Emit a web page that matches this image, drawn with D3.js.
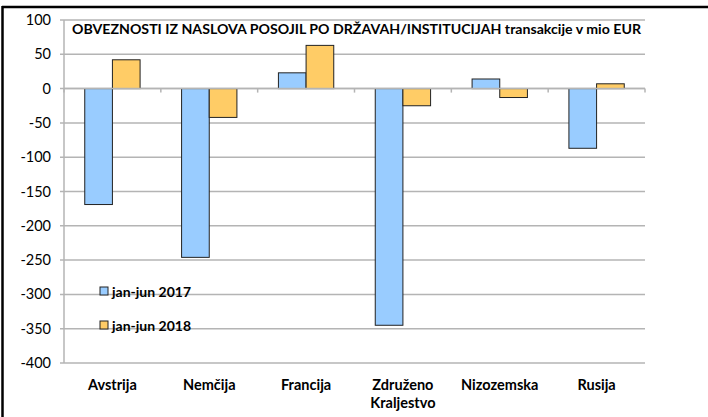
<!DOCTYPE html>
<html><head><meta charset="utf-8">
<script src="https://cdn.jsdelivr.net/npm/d3@7"></script>
<style>body{margin:0;background:#fff}svg{display:block}text{font-family:Lato,"Open Sans",sans-serif}</style>
</head><body><div id="chart"></div>
<script>
const categories = [["Avstrija"],["Nemčija"],["Francija"],["Združeno","Kraljestvo"],["Nizozemska"],["Rusija"]];
const seriesNames = ["jan-jun 2017","jan-jun 2018"];
const values2017 = [-169, -246, 23, -345, 14, -87];
const values2018 = [42, -42, 63, -25, -13, 7];
const yTicks = [100,50,0,-50,-100,-150,-200,-250,-300,-350,-400];
const title = "OBVEZNOSTI IZ NASLOVA POSOJIL PO DRŽAVAH/INSTITUCIJAH transakcije v mio EUR";
const colors = ["#99CCFF","#FFCC66"];

(function(){
const W=708,H=417;
const svg=d3.select("#chart").append("svg").attr("width",W).attr("height",H);
const mLeft=64,mRight=645,mTop=20,mBottom=363;
const y=d3.scaleLinear().domain([-400,100]).range([mBottom,mTop]);
const x=d3.scaleBand().domain(d3.range(categories.length)).range([mLeft,mRight]).paddingInner(0).paddingOuter(0);
const inner=d3.scaleBand().domain([0,1]).range([0,x.bandwidth()]).paddingInner(0).paddingOuter(0.75);

// border
svg.append("line").attr("x1",2).attr("x2",W).attr("y1",7).attr("y2",7).attr("stroke","#000").attr("stroke-width",2.5);
svg.append("line").attr("x1",2.5).attr("x2",2.5).attr("y1",6).attr("y2",H).attr("stroke","#000").attr("stroke-width",2.5);

// gridlines
svg.append("g").selectAll("line").data(yTicks).join("line")
 .attr("x1",mLeft-4).attr("x2",mRight).attr("y1",d=>y(d)).attr("y2",d=>y(d))
 .attr("stroke","#b4b4b4").attr("stroke-width",1.5);
// y axis line
svg.append("line").attr("x1",mLeft).attr("x2",mLeft).attr("y1",mTop).attr("y2",mBottom).attr("stroke","#b4b4b4").attr("stroke-width",1.5);
// y tick labels
svg.append("g").selectAll("text").data(yTicks).join("text")
 .attr("x",51).attr("y",d=>y(d)).attr("dy","0.35em").attr("text-anchor","end")
 .attr("font-size",14.5).attr("fill","#000").text(d=>d);

// title
svg.append("text").attr("x",72).attr("y",34).attr("font-size",13.5).attr("font-weight","bold")
 .attr("textLength",569).attr("lengthAdjust","spacingAndGlyphs").text(title);

// bars
const series=[values2017,values2018];
series.forEach((vals,si)=>{
  svg.append("g").selectAll("rect").data(vals).join("rect")
   .attr("x",(d,i)=>x(i)+inner(si)).attr("width",inner.bandwidth())
   .attr("y",d=>y(Math.max(0,d))).attr("height",d=>Math.abs(y(d)-y(0)))
   .attr("fill",colors[si]).attr("stroke","#222").attr("stroke-width",1);
});
// category ticks on zero line
const bounds=d3.range(categories.length+1).map(i=>mLeft+i*x.bandwidth());
svg.append("g").selectAll("line").data(bounds).join("line")
 .attr("x1",d=>d).attr("x2",d=>d).attr("y1",y(0)).attr("y2",y(0)+4)
 .attr("stroke","#b4b4b4").attr("stroke-width",1.5);
svg.append("line").attr("x1",mLeft).attr("x2",mRight).attr("y1",y(0)).attr("y2",y(0)).attr("stroke","#b4b4b4").attr("stroke-width",1.5);

// x labels
const xl=svg.append("g").selectAll("text").data(categories).join("text")
 .attr("x",(d,i)=>x(i)+x.bandwidth()/2).attr("y",390).attr("text-anchor","middle")
 .attr("font-size",14.5).attr("font-weight","bold");
xl.selectAll("tspan").data(d=>d).join("tspan")
 .attr("x",function(){return this.parentNode.getAttribute("x");})
 .attr("dy",(d,j)=>j?18:0).text(d=>d);

// legend
const lg=svg.append("g").selectAll("g").data(seriesNames).join("g")
 .attr("transform",(d,i)=>`translate(100,${287+i*34})`);
lg.append("rect").attr("width",8).attr("height",8).attr("fill",(d,i)=>colors[i]).attr("stroke","#222").attr("stroke-width",1);
lg.append("text").attr("x",12).attr("y",9.5).attr("font-size",14).attr("font-weight","bold").text(d=>d);
})();
</script></body></html>
